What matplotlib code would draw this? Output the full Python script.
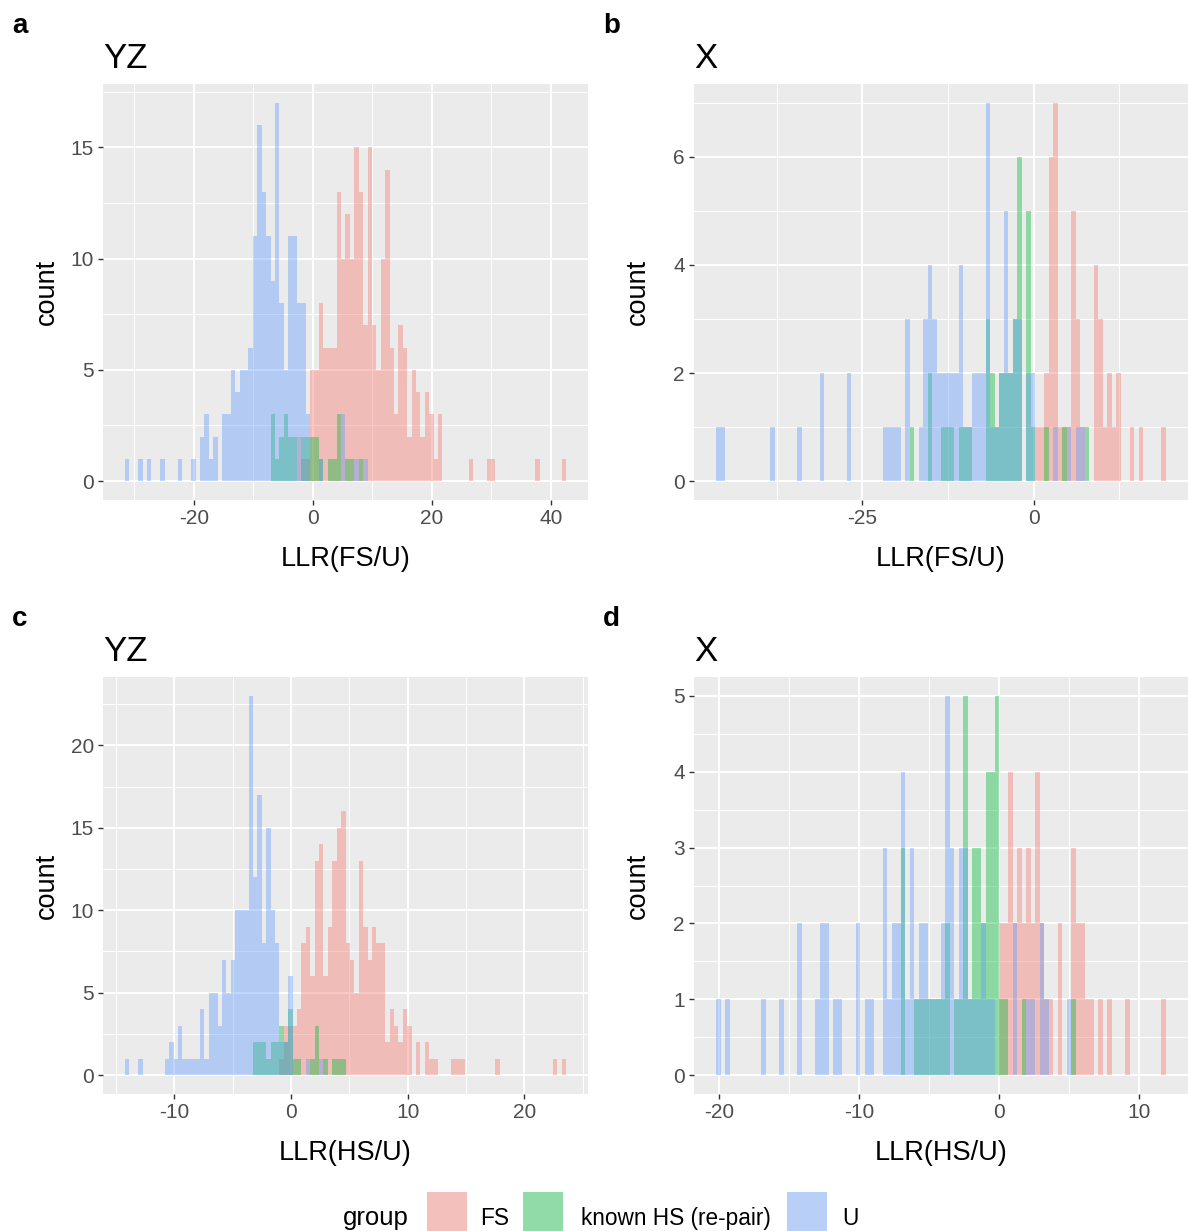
import numpy as np
import matplotlib
matplotlib.use("Agg")
import matplotlib.pyplot as plt
from matplotlib.patches import Rectangle

plt.rcParams['font.family'] = ['Liberation Sans', 'DejaVu Sans']
plt.rcParams['axes.unicode_minus'] = False

FS_COLOR = '#F8766D'
HS_COLOR = '#00BA38'
U_COLOR = '#619CFF'
ALPHA = 0.4
N_BINS = 100

# Histogram counts, stored sparsely as {bin index: count} over 100 bins
yz_fs_u_fs = {39: 2, 40: 1, 41: 1, 42: 5, 43: 5, 44: 8, 45: 6, 46: 6, 47: 6, 48: 13, 49: 10,
              50: 12, 51: 10, 52: 15, 53: 13, 54: 7, 55: 15, 56: 7, 57: 5, 58: 10, 59: 14,
              60: 6, 61: 3, 62: 7, 63: 6, 64: 2, 65: 5, 66: 4, 67: 2, 68: 4, 69: 3, 70: 1,
              71: 3, 78: 1, 82: 1, 83: 1, 93: 1, 99: 1}
yz_fs_u_hs = {33: 3, 34: 1, 35: 2, 36: 3, 37: 2, 38: 2, 40: 2, 41: 2, 42: 2, 43: 2, 44: 1,
              46: 1, 47: 1, 48: 3, 50: 1, 51: 1, 53: 1}
yz_fs_u_u = {0: 1, 3: 1, 5: 1, 8: 1, 12: 1, 15: 1, 17: 2, 18: 3, 19: 1, 20: 2, 22: 3, 23: 3,
             24: 5, 25: 4, 26: 5, 27: 5, 28: 6, 29: 11, 30: 16, 31: 13, 32: 11, 33: 9, 34: 17,
             35: 8, 36: 5, 37: 11, 38: 11, 39: 8, 40: 8, 41: 3, 44: 1, 49: 3, 52: 1, 54: 1}

x_fs_u_fs = {71: 1, 72: 1, 73: 2, 74: 6, 75: 7, 76: 1, 77: 1, 78: 1, 79: 5, 80: 3, 81: 1,
             84: 4, 85: 3, 86: 1, 87: 2, 88: 1, 89: 2, 92: 1, 94: 1, 99: 1}
x_fs_u_hs = {43: 1, 47: 2, 50: 1, 51: 1, 52: 1, 54: 1, 55: 1, 56: 1, 60: 3, 61: 2, 62: 1,
             63: 2, 64: 2, 65: 2, 66: 3, 67: 6, 69: 5, 70: 1, 73: 1, 77: 1, 82: 1}
x_fs_u_u = {0: 1, 1: 1, 12: 1, 18: 1, 23: 2, 29: 2, 37: 1, 38: 1, 39: 1, 40: 1, 42: 3, 45: 1,
            46: 3, 47: 4, 48: 3, 49: 2, 50: 2, 51: 2, 52: 2, 53: 2, 54: 4, 55: 1, 56: 1,
            57: 2, 58: 2, 59: 2, 60: 7, 61: 1, 62: 1, 63: 2, 64: 5, 65: 2, 66: 3, 67: 3,
            69: 2, 70: 2, 75: 1, 78: 1, 80: 1, 81: 1}

yz_hs_u_fs = {35: 1, 36: 3, 37: 3, 38: 3, 39: 4, 40: 8, 41: 9, 42: 6, 43: 13, 44: 14, 45: 6,
              46: 9, 47: 13, 48: 15, 49: 16, 50: 8, 51: 7, 52: 5, 53: 13, 54: 9, 55: 7,
              56: 9, 57: 8, 58: 8, 59: 2, 60: 4, 61: 3, 62: 2, 63: 4, 64: 3, 66: 2, 68: 2,
              69: 1, 70: 1, 74: 1, 75: 1, 76: 1, 84: 1, 97: 1, 99: 1}
yz_hs_u_hs = {29: 2, 30: 2, 31: 2, 32: 1, 33: 2, 34: 2, 35: 3, 36: 2, 37: 4, 38: 1, 39: 1,
              42: 1, 43: 3, 45: 1, 47: 1, 48: 1, 49: 1}
yz_hs_u_u = {0: 1, 3: 1, 9: 1, 10: 2, 11: 1, 12: 3, 13: 1, 14: 1, 15: 1, 16: 1, 17: 4, 18: 1,
             19: 5, 20: 5, 21: 3, 22: 7, 23: 5, 24: 7, 25: 10, 26: 10, 27: 10, 28: 23,
             29: 12, 30: 17, 31: 8, 32: 15, 33: 10, 34: 8, 35: 2, 36: 2, 37: 6, 41: 1, 44: 1}

x_hs_u_fs = {63: 2, 64: 2, 65: 4, 66: 2, 67: 3, 68: 2, 69: 3, 70: 2, 71: 4, 72: 2, 73: 1,
             74: 1, 76: 2, 79: 3, 80: 2, 81: 2, 82: 1, 83: 1, 85: 1, 87: 1, 91: 1, 99: 1}
x_hs_u_hs = {41: 3, 44: 1, 45: 1, 46: 1, 47: 1, 48: 1, 49: 1, 50: 1, 51: 2, 53: 1, 54: 1,
             55: 5, 56: 1, 57: 3, 58: 3, 59: 2, 60: 4, 61: 4, 62: 5, 63: 1, 64: 1, 68: 1,
             79: 1}
x_hs_u_u = {0: 1, 2: 1, 10: 1, 14: 1, 18: 2, 22: 1, 23: 2, 24: 2, 26: 1, 27: 1, 31: 2, 33: 1,
            34: 1, 37: 3, 38: 1, 39: 2, 40: 2, 41: 4, 42: 1, 43: 3, 44: 1, 45: 2, 46: 2,
            47: 1, 48: 1, 49: 1, 50: 2, 51: 5, 52: 3, 53: 1, 54: 3, 55: 3, 56: 1, 57: 1,
            58: 1, 59: 2, 60: 1, 61: 1, 66: 2, 69: 1, 70: 1, 72: 2, 73: 1, 78: 1}

# first bin edge and bin width of each histogram
bin_start = {'a': -31.57, 'b': -46.26, 'c': -14.23, 'd': -20.19}
bin_width = {'a': 0.741, 'b': 0.655, 'c': 0.378, 'd': 0.3207}

W, H = 1188, 1231


def dense(sparse):
    counts = np.zeros(N_BINS)
    for i, c in sparse.items():
        counts[i] = c
    return counts


def px_rect(left, top, right, bottom):
    return [left / W, 1 - bottom / H, (right - left) / W, (bottom - top) / H]


fig = plt.figure(figsize=(W / 100, H / 100), dpi=100)
fig.patch.set_facecolor('white')

panels = [
    ('a', 'YZ', 'LLR(FS/U)', (yz_fs_u_fs, yz_fs_u_hs, yz_fs_u_u), (103, 84, 588, 500),
     [-20, 0, 20, 40], [-30, -10, 10, 30], [0, 5, 10, 15], [2.5, 7.5, 12.5, 17.5]),
    ('b', 'X', 'LLR(FS/U)', (x_fs_u_fs, x_fs_u_hs, x_fs_u_u), (694, 84, 1188, 500),
     [-25, 0], [-37.5, -12.5, 12.5], [0, 2, 4, 6], [1, 3, 5, 7]),
    ('c', 'YZ', 'LLR(HS/U)', (yz_hs_u_fs, yz_hs_u_hs, yz_hs_u_u), (103, 677, 588, 1094),
     [-10, 0, 10, 20], [-15, -5, 5, 15, 25], [0, 5, 10, 15, 20],
     [2.5, 7.5, 12.5, 17.5, 22.5]),
    ('d', 'X', 'LLR(HS/U)', (x_hs_u_fs, x_hs_u_hs, x_hs_u_u), (694, 677, 1188, 1094),
     [-20, -10, 0, 10], [-15, -5, 5], [0, 1, 2, 3, 4, 5],
     [0.5, 1.5, 2.5, 3.5, 4.5]),
]

for tag, title, xlabel, groups, box, xmaj, xmin, ymaj, ymin in panels:
    left, top, right, bottom = box
    ax = fig.add_axes(px_rect(left, top, right, bottom))
    ax.set_facecolor('#EBEBEB')
    for s in ax.spines.values():
        s.set_visible(False)

    edges = bin_start[tag] + bin_width[tag] * np.arange(N_BINS + 1)
    ymax = 0
    for sparse, color in zip(groups, (FS_COLOR, HS_COLOR, U_COLOR)):
        counts = dense(sparse)
        ymax = max(ymax, counts.max())
        ax.stairs(counts, edges, fill=True, color=color, alpha=ALPHA, linewidth=0)

    span = edges[-1] - edges[0]
    ax.set_xlim(edges[0] - 0.05 * span, edges[-1] + 0.05 * span)
    ax.set_ylim(-0.05 * ymax, 1.05 * ymax)

    ax.set_xticks(xmaj)
    ax.set_xticks(xmin, minor=True)
    ax.set_yticks(ymaj)
    ax.set_yticks(ymin, minor=True)
    ax.set_axisbelow(True)
    ax.grid(which='major', color='white', linewidth=1.4)
    ax.grid(which='minor', color='white', linewidth=0.7)
    ax.tick_params(which='major', length=3.6, width=1.0, color='#333333',
                   labelsize=15, labelcolor='#4D4D4D', pad=3)
    ax.tick_params(which='minor', length=0)

    cx = (left + right) / 2
    fig.text(cx / W, 1 - (bottom + 66) / H, xlabel, ha='center', va='baseline',
             fontsize=19.5, color='black')
    fig.text((left - 56) / W, 1 - ((top + bottom) / 2) / H, 'count', rotation=90,
             ha='center', va='center', fontsize=19.5, color='black')
    fig.text(left / W, 1 - (top - 16) / H, title, ha='left', va='baseline',
             fontsize=25, color='black')
    fig.text((left - 91) / W, 1 - (top - 51) / H, tag, ha='left', va='baseline',
             fontsize=20, fontweight='bold', color='black')

# legend along the bottom edge
fig.text(343 / W, 1 - 1225 / H, 'group', ha='left', va='baseline', fontsize=18.5)
legend_items = [('FS', FS_COLOR, 427, 480), ('known HS (re-pair)', HS_COLOR, 523, 581),
                ('U', U_COLOR, 787, 842)]
for label, color, key_x, text_x in legend_items:
    for fc, a in (('#F2F2F2', 1.0), (color, ALPHA)):
        fig.patches.append(Rectangle((key_x / W, 0), 40 / W, 39 / H, facecolor=fc,
                                     alpha=a, edgecolor='none',
                                     transform=fig.transFigure, figure=fig))
    fig.text(text_x / W, 1 - 1225 / H, label, ha='left', va='baseline', fontsize=16.3)

fig.savefig('out.png', dpi=100)
